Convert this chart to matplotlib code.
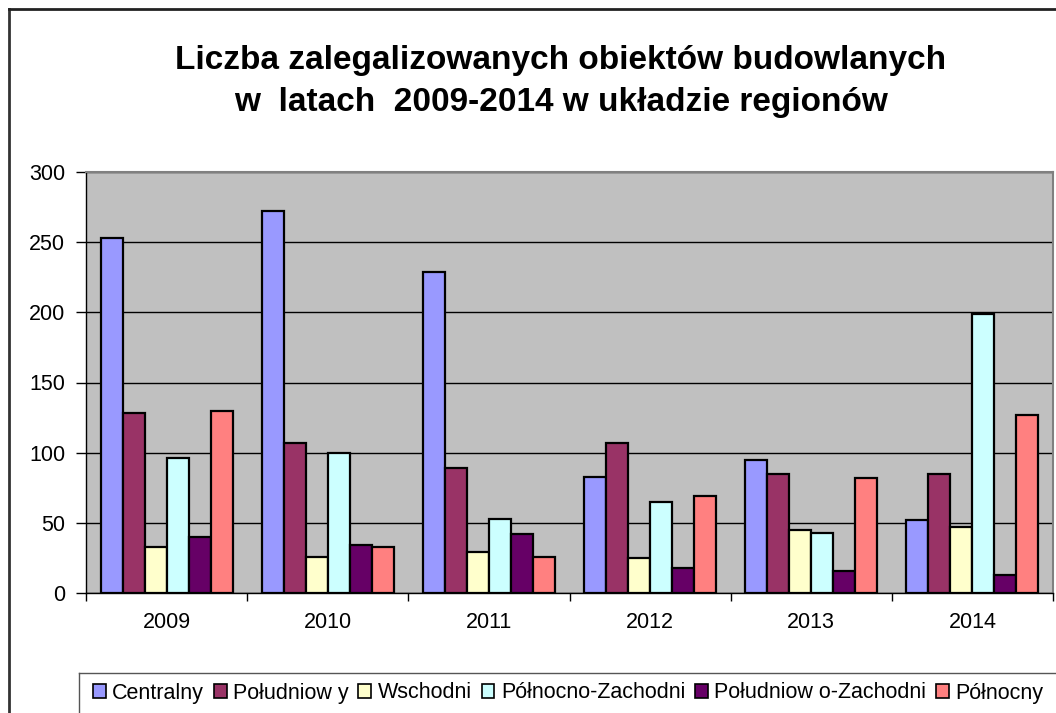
import numpy as np
import matplotlib
matplotlib.use("Agg")
import matplotlib.pyplot as plt
from matplotlib.lines import Line2D
from matplotlib.patches import Patch

plt.rcParams['font.family'] = ['Liberation Sans', 'DejaVu Sans']

# data
years = ['2009', '2010', '2011', '2012', '2013', '2014']
regions = ['Centralny', 'Południow y', 'Wschodni', 'Północno-Zachodni',
           'Południow o-Zachodni', 'Północny']
centralny = [253, 272, 229, 83, 95, 52]
poludniowy = [128, 107, 89, 107, 85, 85]
wschodni = [33, 26, 29, 25, 45, 47]
pn_zach = [96, 100, 53, 65, 43, 199]
pd_zach = [40, 34, 42, 18, 16, 13]
polnocny = [130, 33, 26, 69, 82, 127]
colors = ['#9999FF', '#993366', '#FFFFCC', '#CCFFFF', '#660066', '#FF8080']

series = [centralny, poludniowy, wschodni, pn_zach, pd_zach, polnocny]

W, H = 1056, 713
fig = plt.figure(figsize=(W / 100, H / 100), dpi=100)
ax = fig.add_axes([86 / W, 1 - 593 / H, (1053 - 86) / W, (593 - 172) / H])
ax.set_facecolor('#C0C0C0')

index = np.arange(len(years))
bar_width = 1 / 7.33
offset = -2.5 * bar_width
for i, vals in enumerate(series):
    ax.bar(index + offset + i * bar_width, vals, bar_width, color=colors[i],
           edgecolor='black', linewidth=1.6, label=regions[i], zorder=3)

ax.set_xlim(-0.5, len(years) - 0.5)
ax.set_ylim(0, 300)
ax.set_yticks(range(0, 301, 50))
ax.yaxis.grid(True, color='black', linewidth=1, zorder=1)
ax.set_xticks(index)
ax.set_xticklabels(years, fontsize=15.5)
ax.set_xticks(np.arange(-0.5, len(years)), minor=True)
ax.tick_params(axis='x', which='major', length=0, pad=14)
ax.tick_params(axis='x', which='minor', length=6, direction='out', width=1)
ax.tick_params(axis='y', labelsize=15.5, length=7, width=1, pad=8)
for s in ['top', 'right']:
    ax.spines[s].set_color('#808080')
    ax.spines[s].set_linewidth(1.5)
for s in ['left', 'bottom']:
    ax.spines[s].set_color('black')
    ax.spines[s].set_linewidth(1)

fig.text(561 / W, 1 - 61 / H, 'Liczba zalegalizowanych obiektów budowlanych',
         ha='center', va='center', fontsize=24, fontweight='bold')
fig.text(561 / W, 1 - 103 / H, 'w  latach  2009-2014 w układzie regionów',
         ha='center', va='center', fontsize=24, fontweight='bold')

# chart border (top and left visible)
fig.add_artist(Line2D([9 / W, 9 / W], [0, 1 - 9 / H], color='#333333', linewidth=2))
fig.add_artist(Line2D([9 / W, 1], [1 - 9 / H, 1 - 9 / H], color='#222222', linewidth=2))
# legend box edges
fig.add_artist(Line2D([79 / W, 79 / W], [0, 1 - 673 / H], color='#555555', linewidth=1))
fig.add_artist(Line2D([79 / W, 1], [1 - 673 / H, 1 - 673 / H], color='#555555', linewidth=1))

handles = [Patch(facecolor=c, edgecolor='black', linewidth=1.2) for c in colors]
fig.legend(handles, regions, loc='center left', bbox_to_anchor=(82 / W, 1 - 693 / H),
           ncol=6, frameon=False, fontsize=15.5, handlelength=0.6, handleheight=0.6,
           handletextpad=0.3, columnspacing=0.45, borderpad=0)

fig.savefig('out.png', dpi=100)
